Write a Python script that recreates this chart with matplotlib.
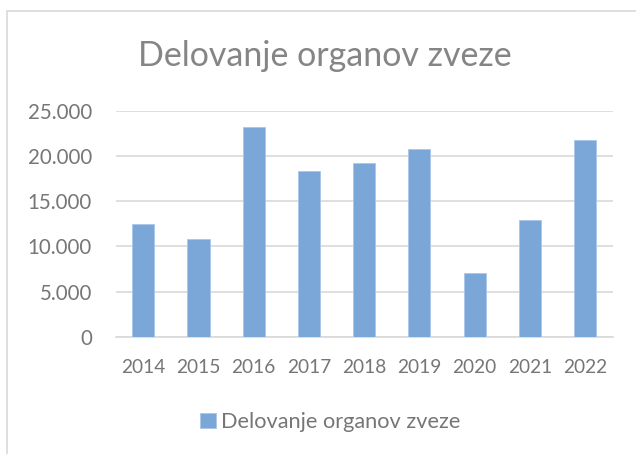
import matplotlib
matplotlib.use('Agg')
import matplotlib.pyplot as plt
from matplotlib.patches import Rectangle
from matplotlib.ticker import FuncFormatter

plt.rcParams['font.family'] = ['Lato', 'DejaVu Sans']

# podatki
leta = ['2014', '2015', '2016', '2017', '2018', '2019', '2020', '2021', '2022']
vrednosti = [12470, 10800, 23200, 18360, 19180, 20760, 7050, 12880, 21720]
naslov = 'Delovanje organov zveze'

barva = '#7aa7d8'
siva = '#767676'

fig = plt.figure(figsize=(6.36, 4.54), dpi=100)
ax = fig.add_axes([115.7 / 636, 1 - 336.7 / 454, 497 / 636, 226 / 454])

x = range(len(leta))
ax.bar(x, vrednosti, width=0.4, color=barva, label=naslov, zorder=3,
       edgecolor='#a9c6e8', linewidth=0.6)

ax.set_xlim(-0.5, len(leta) - 0.5)
ax.set_ylim(0, 25000)
ax.set_yticks(range(0, 25001, 5000))
ax.yaxis.set_major_formatter(FuncFormatter(lambda v, p: f'{int(v):,}'.replace(',', '.')))
ax.set_xticks(list(x))
ax.set_xticklabels(leta)
ax.grid(axis='y', color='#d9d9d9', linewidth=1.2, zorder=0)
for s in ['top', 'right', 'left']:
    ax.spines[s].set_visible(False)
ax.spines['bottom'].set_color('#d9d9d9')
ax.spines['bottom'].set_linewidth(1.2)
ax.tick_params(length=0, labelcolor=siva)
ax.tick_params(axis='x', labelsize=13.8, pad=16)
ax.tick_params(axis='y', labelsize=14.8, pad=17)

fig.text(324.5 / 636, 1 - 56 / 454, naslov, ha='center', va='center', fontsize=24.5, color='#858585')

leg = fig.legend(loc='center', bbox_to_anchor=(330.5 / 636, 1 - 422 / 454), frameon=False,
                 fontsize=15.7, handlelength=0.7, handleheight=0.7, handletextpad=0.25)
for t in leg.get_texts():
    t.set_color(siva)

# okvir grafikona
fig.patches.append(Rectangle((7 / 636, -0.1), 1.2, 1 - 11 / 454 + 0.1, transform=fig.transFigure,
                             fill=False, edgecolor='#d9d9d9', linewidth=1.2))

plt.savefig('out.png', dpi=100)
